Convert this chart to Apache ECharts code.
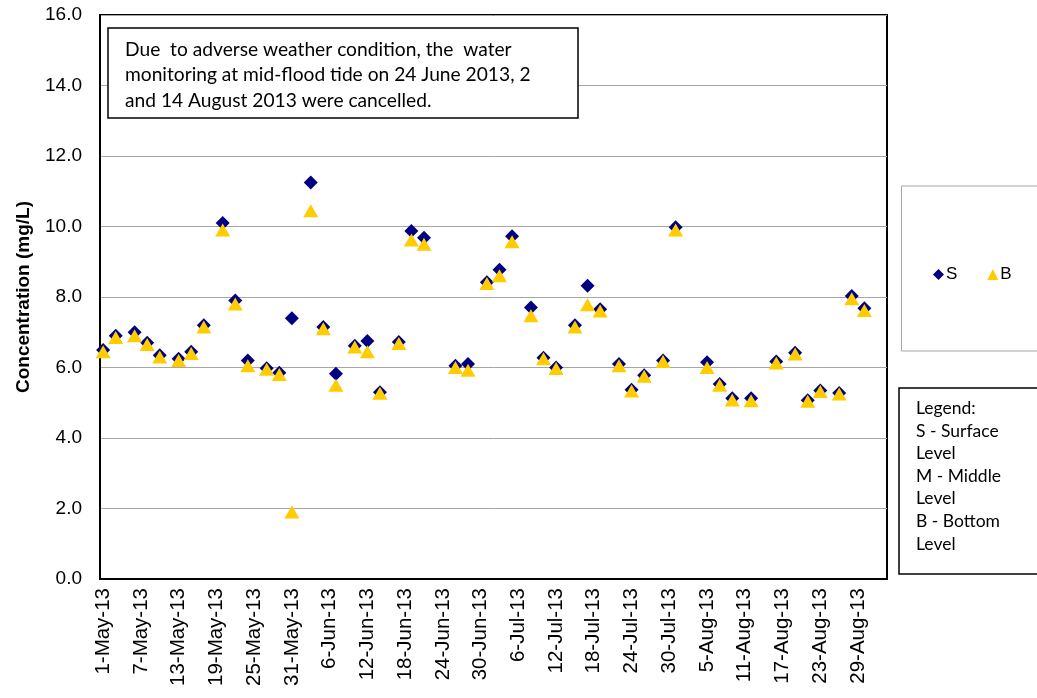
<!DOCTYPE html>
<html>
<head>
<meta charset="utf-8">
<script src="https://cdn.jsdelivr.net/npm/echarts@6/dist/echarts.min.js"></script>
<style>html,body{margin:0;padding:0;background:#fff;}#c{width:1037px;height:698px;}</style>
</head>
<body>
<div id="c"></div>
<script>
// Monitoring dates (2013)
var dates = ['1-May','3-May','6-May','8-May','10-May','13-May','15-May','17-May','20-May','22-May',
  '24-May','27-May','29-May','31-May','3-Jun','5-Jun','7-Jun','10-Jun','12-Jun','14-Jun',
  '17-Jun','19-Jun','21-Jun','26-Jun','28-Jun','1-Jul','3-Jul','5-Jul','8-Jul','10-Jul',
  '12-Jul','15-Jul','17-Jul','19-Jul','22-Jul','24-Jul','26-Jul','29-Jul','31-Jul','5-Aug',
  '7-Aug','9-Aug','12-Aug','16-Aug','19-Aug','21-Aug','23-Aug','26-Aug','28-Aug','30-Aug'];
// S - Surface level
var sValues = [6.50,6.90,7.00,6.70,6.35,6.25,6.45,7.20,10.10,7.90,
  6.20,5.98,5.85,7.40,11.25,7.15,5.82,6.62,6.75,5.30,
  6.72,9.87,9.68,6.05,6.10,8.42,8.77,9.72,7.70,6.28,
  6.00,7.20,8.32,7.65,6.10,5.37,5.78,6.20,9.98,6.15,
  5.53,5.13,5.13,6.17,6.42,5.07,5.35,5.28,8.03,7.68];
// B - Bottom level
var bValues = [6.45,6.85,6.90,6.65,6.30,6.20,6.40,7.15,9.90,7.80,
  6.05,5.95,5.80,1.90,10.45,7.10,5.50,6.58,6.45,5.27,
  6.68,9.62,9.50,6.00,5.92,8.38,8.60,9.57,7.47,6.25,
  5.97,7.15,7.78,7.60,6.05,5.33,5.75,6.17,9.90,6.00,
  5.50,5.08,5.06,6.13,6.38,5.04,5.32,5.25,7.95,7.62];
// X tick labels
var tickLabels = ['1-May-13','7-May-13','13-May-13','19-May-13','25-May-13','31-May-13','6-Jun-13',
  '12-Jun-13','18-Jun-13','24-Jun-13','30-Jun-13','6-Jul-13','12-Jul-13','18-Jul-13','24-Jul-13',
  '30-Jul-13','5-Aug-13','11-Aug-13','17-Aug-13','23-Aug-13','29-Aug-13'];

var monthStart = {May:0, Jun:31, Jul:61, Aug:92, Sep:123};
function dayIndex(s){ var p = s.split('-'); return monthStart[p[1]] + parseInt(p[0],10) - 1; }
var tickDays = tickLabels.map(dayIndex);
var labelMap = {};
tickDays.forEach(function(d,i){ labelMap[d] = tickLabels[i]; });

var sData = dates.map(function(d,i){ return [dayIndex(d), sValues[i]]; });
var bData = dates.map(function(d,i){ return [dayIndex(d), bValues[i]]; });

var chart = echarts.init(document.getElementById('c'));
chart.setOption({
  animation: false,
  backgroundColor: '#fff',
  grid: {left: 100, right: 150, top: 15, bottom: 119, show: true, borderColor: '#000', borderWidth: 2, backgroundColor: 'transparent'},
  legend: {
    left: 928, top: 261, orient: 'horizontal', itemGap: 30, itemWidth: 11, itemHeight: 11,
    textStyle: {fontFamily: 'Liberation Sans, Arial', fontSize: 17, color: '#000', padding: [0,0,0,-3]},
    data: [{name: 'S', icon: 'diamond'}, {name: 'B', icon: 'triangle'}]
  },
  xAxis: {
    type: 'value', min: -0.5, max: 124.6,
    axisLine: {show: true, onZero: false, lineStyle: {color: '#000', width: 2}},
    axisTick: {show: false},
    splitLine: {show: false},
    axisLabel: {
      customValues: tickDays, rotate: 90, margin: 9,
      fontFamily: 'Liberation Sans, Arial', fontSize: 20.5, color: '#000',
      formatter: function(v){ return labelMap[Math.round(v)] || ''; }
    }
  },
  yAxis: {
    type: 'value', min: 0, max: 16, interval: 2,
    name: 'Concentration (mg/L)', nameLocation: 'middle', nameGap: 67,
    nameTextStyle: {fontFamily: 'Liberation Sans, Arial', fontSize: 19, fontWeight: 'bold', color: '#000'},
    axisLine: {show: true, onZero: false, lineStyle: {color: '#000', width: 2}},
    axisTick: {show: false},
    splitLine: {show: true, lineStyle: {color: '#a6a6a6', width: 1}},
    axisLabel: {fontFamily: 'Liberation Sans, Arial', fontSize: 19, color: '#000', margin: 18,
      formatter: function(v){ return v.toFixed(1); }}
  },
  series: [
    {name: 'S', type: 'scatter', data: sData, symbol: 'diamond', symbolSize: 14,
     itemStyle: {color: '#000080', opacity: 1}, z: 2},
    {name: 'B', type: 'scatter', data: bData, symbol: 'triangle', symbolSize: [15, 13],
     itemStyle: {color: '#FFCC00', opacity: 1}, z: 3}
  ],
  graphic: [
    {type: 'rect', shape: {x: 108, y: 28, width: 470, height: 90},
     style: {fill: '#fff', stroke: '#000', lineWidth: 1.5}, z: 10},
    {type: 'text', x: 125, y: 37, z: 11,
     style: {text: 'Due  to adverse weather condition, the  water\nmonitoring at mid-flood tide on 24 June 2013, 2\nand 14 August 2013 were cancelled.',
       fontFamily: 'Lato', fontSize: 19.2, lineHeight: 25.5, fill: '#000'}},
    {type: 'rect', shape: {x: 901.5, y: 186, width: 140, height: 165},
     style: {fill: 'transparent', stroke: '#a6a6a6', lineWidth: 1}, z: 1},
    {type: 'rect', shape: {x: 899, y: 388, width: 145, height: 186},
     style: {fill: '#fff', stroke: '#000', lineWidth: 1.5}, z: 10},
    {type: 'text', x: 916, y: 397, z: 11,
     style: {text: 'Legend:\nS - Surface\nLevel\nM - Middle\nLevel\nB - Bottom\nLevel',
       fontFamily: 'Lato', fontSize: 17.5, lineHeight: 22.6, fill: '#000'}}
  ]
});
</script>
</body>
</html>
